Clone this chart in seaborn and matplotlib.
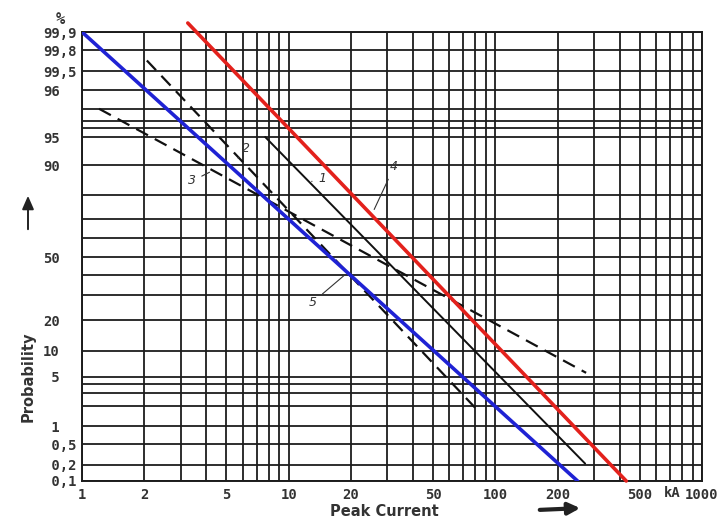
import numpy as np
import matplotlib
matplotlib.use("Agg")
import matplotlib.pyplot as plt
import seaborn as sns

# end points of the straight lines (kA, %)
blue_ka = [1.0, 250.0]
blue_pct = [99.9, 0.1]
red_ka = [3.25, 430.0]
red_pct = [99.95, 0.1]
curve1_ka = [7.7, 272.0]
curve1_pct = [95.0, 0.22]
curve2_ka = [2.06, 84.0]
curve2_pct = [99.65, 2.1]
curve3_ka = [1.21, 275.0]
curve3_pct = [95.6, 5.8]

x_ticks = [1, 2, 5, 10, 20, 50, 100, 200, 500, 1000]
x_labels = ["1", "2", "5", "10", "20", "50", "100", "200", "500", "1000"]
y_ticks = [0.1, 0.2, 0.5, 1, 5, 10, 20, 50, 90, 95, 96, 99.5, 99.8, 99.9]
y_labels = [" 0,1", " 0,2", " 0,5", " 1", " 5", "10", "20", "50",
            "90", "95", "96", "99,5", "99,8", "99,9"]
# unlabelled horizontal rules of the paper
y_extra = [2.63, 3.69, 4.43, 31.9, 41.4, 58.3, 66.5, 77.0, 95.19, 95.34, 95.6]

# the probability axis of this paper is not a clean probit, map it piecewise
scale_pct = [0.0, 0.1, 0.2, 0.5, 1, 5, 10, 20, 50, 90, 95, 96, 99.5, 99.8, 99.9, 100.0]
scale_pos = [-16, 0, 16, 37, 55, 104, 130, 161, 224, 316, 344, 391, 410, 431, 449, 467]


def fwd(p):
    return np.interp(p, scale_pct, scale_pos)


def inv(v):
    return np.interp(v, scale_pos, scale_pct)


sns.set_style("white")
plt.rcParams['font.family'] = ['DejaVu Sans']

W, H = 721, 524
fig = plt.figure(figsize=(W / 100, H / 100), dpi=100)
ax = fig.add_axes([82 / W, 43 / H, 620 / W, 449 / H])

ax.set_xscale("log")
ax.set_yscale("function", functions=(fwd, inv))
ax.set_xlim(1, 1000)
ax.set_ylim(0.1, 99.9)

grid_kw = dict(color="#1c1c1c", lw=1.3)
ax.set_xticks(x_ticks, x_labels)
ax.set_xticks([v * d for d in (1, 10, 100) for v in range(2, 10) if v * d not in x_ticks],
              minor=True)
ax.set_yticks(y_ticks, y_labels, ha="left")
ax.set_yticks(y_extra, minor=True)
ax.grid(True, which="both", **grid_kw)
ax.tick_params(which="both", length=0)
ax.tick_params(axis="y", pad=28)
ax.tick_params(axis="x", pad=5)
for lab in ax.get_xticklabels() + ax.get_yticklabels():
    lab.set_family("DejaVu Sans Mono")
    lab.set_weight("bold")
    lab.set_fontsize(10)
    lab.set_color("#333333")
for s in ax.spines.values():
    s.set_color("#1c1c1c")
    s.set_linewidth(1.4)

sns.lineplot(x=red_ka, y=red_pct, ax=ax, color="#e3211c", lw=2.6, clip_on=False, zorder=5)
sns.lineplot(x=blue_ka, y=blue_pct, ax=ax, color="#1f22d4", lw=2.6, zorder=5)
sns.lineplot(x=curve1_ka, y=curve1_pct, ax=ax, color="#111111", lw=1.4, zorder=4)
sns.lineplot(x=curve2_ka, y=curve2_pct, ax=ax, color="#111111", lw=1.6,
             linestyle=(0, (6, 3.5)), zorder=4)
sns.lineplot(x=curve3_ka, y=curve3_pct, ax=ax, color="#111111", lw=1.6,
             linestyle=(0, (6, 3.5)), zorder=4)

# curve numbers with leader lines (figure pixels, origin top-left of the scan)
def px(x, y):
    return (x, H - y)


leader = dict(arrowstyle="-", color="#333333", lw=0.8)
for num, txt, tip in [("1", (322, 179), (309, 182)),
                      ("2", (246, 148), (238, 158)),
                      ("3", (192, 181), (212, 171)),
                      ("4", (394, 167), (373, 212)),
                      ("5", (313, 302), (347, 273))]:
    ax.annotate(num, xy=px(*tip), xycoords="figure pixels",
                xytext=px(*txt), textcoords="figure pixels",
                ha="center", va="center", fontsize=9, style="italic",
                color="#333333", arrowprops=leader, zorder=6)

mono = dict(family="DejaVu Sans Mono", weight="bold", color="#333333")
fig.text(60 / W, 1 - 19 / H, "%", ha="center", va="center", fontsize=11, **mono)
fig.text(672 / W, 1 - 493 / H, "kA", ha="center", va="center", fontsize=10, **mono)

ax.set_ylabel("Probability", fontsize=10.5, fontweight="bold", color="#333333")
ax.yaxis.set_label_coords((36 - 82) / 620, (481 - 377) / 449)
ax.set_xlabel("Peak Current", fontsize=10.5, fontweight="bold", color="#333333")
ax.xaxis.set_label_coords((384 - 82) / 620, (481 - 504) / 449)

ax.annotate("", xy=px(28, 193), xytext=px(28, 232),
            xycoords="figure pixels", textcoords="figure pixels",
            arrowprops=dict(arrowstyle="-|>,head_length=0.8,head_width=0.35",
                            color="#222222", lw=1.4))
ax.annotate("", xy=px(583, 508), xytext=px(537, 510),
            xycoords="figure pixels", textcoords="figure pixels",
            arrowprops=dict(arrowstyle="-|>,head_length=0.7,head_width=0.35",
                            color="#222222", lw=3))

fig.savefig("out.png", dpi=100)
